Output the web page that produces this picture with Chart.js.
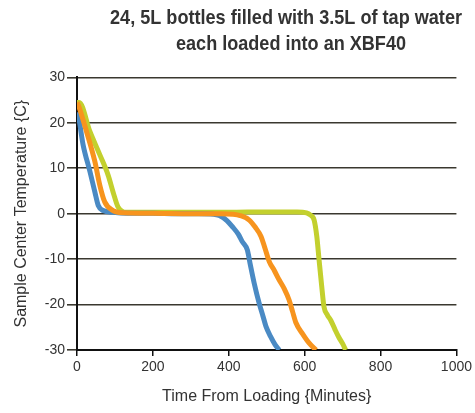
<!DOCTYPE html>
<html>
<head>
<meta charset="utf-8">
<script src="https://cdn.jsdelivr.net/npm/chart.js@4"></script>
<style>
html,body{margin:0;padding:0;background:#fff;}
#wrap{width:475px;height:413px;}
</style>
</head>
<body>
<div id="wrap"><canvas id="c" width="475" height="413"></canvas></div>
<script>
// ---- data ----
const titleLines = ["24, 5L bottles filled with 3.5L of tap water", "each loaded into an XBF40"];
const xTitle = "Time From Loading {Minutes}";
const yTitle = "Sample Center Temperature {C}";

const blueTime = [0,3,16,34,47,56,69,95,130,200,260,320,360,375,395,410,425,436,449,456,467,480,490,498,510,522,533];
const blueTemp = [22.3,21.8,15.2,9.3,4.8,1.8,0.7,0.3,0.1,0.1,0,0,-0.1,-0.4,-1.5,-2.9,-4.5,-6.2,-8,-10.9,-15.3,-19.7,-22.5,-24.8,-27,-28.8,-30];

const orangeTime = [0,3,25,47,60,73,95,122,200,300,380,410,430,454,470,485,495,507,520,533,546,559,568,577,595,612,630];
const orangeTemp = [24.5,24,18.1,11.5,6.3,2.6,0.7,0.2,0.1,0,0,-0.1,-0.4,-1.4,-3,-5,-7.5,-10.6,-12.5,-14.6,-16.5,-19,-21.5,-24,-26.5,-28.5,-30];

const greenTime = [0,6,34,60,82,95,108,130,200,300,400,500,580,605,615,625,632,638,645,651,660,669,680,690,700,708];
const greenTemp = [24.5,24.5,18.1,13,8.5,4.8,1.5,0.3,0.3,0.3,0.3,0.4,0.4,0.2,-0.3,-1.4,-5,-10.2,-16,-20.5,-22.3,-23.5,-25.5,-27.2,-28.6,-30];

const xMin = 0, xMax = 1000, xStep = 200;
const yMin = -30, yMax = 30, yStep = 10;

function pts(xs, ys){ return xs.map((x,i)=>({x:x, y:ys[i]})); }

// place the two title lines like the reference (condensed, centred right of middle)
const titleShift = {
  id: 'titleShift',
  afterLayout(chart){
    const tb = chart.titleBlock;
    if (tb){ tb.left = 110; tb.right = 462; }
    const sb = chart.boxes.find(b => b !== tb && b.options && b.options.text === titleLines[1]);
    if (sb){ sb.left = 176; sb.right = 406; }
  }
};

const titleFont = { family: "'Liberation Sans', Arial, sans-serif", size: 21, weight: 'bold', lineHeight: 1.2 };
const tickFont = { family: "'Liberation Sans', Arial, sans-serif", size: 14 };
const axisTitleFont = { family: "'Liberation Sans', Arial, sans-serif", size: 16, lineHeight: 1.2 };

new Chart(document.getElementById('c'), {
  type: 'line',
  data: {
    datasets: [
      {label:'orange', data: pts(orangeTime, orangeTemp), borderColor:'#f7941e'},
      {label:'blue', data: pts(blueTime, blueTemp), borderColor:'#4a8ac4'},
      {label:'green', data: pts(greenTime, greenTemp), borderColor:'#c3d02e'}
    ]
  },
  options: {
    responsive: false,
    animation: false,
    datasets: { line: { borderWidth: 5, pointRadius: 0, cubicInterpolationMode: 'monotone', fill: false } },
    layout: { padding: { left: 0, right: 17, top: 0, bottom: 0 } },
    plugins: {
      legend: { display: false },
      tooltip: { enabled: false },
      title: {
        display: true,
        text: titleLines[0],
        color: '#333333',
        font: titleFont,
        padding: { top: 6, bottom: 0 }
      },
      subtitle: {
        display: true,
        text: titleLines[1],
        color: '#333333',
        font: titleFont,
        padding: { top: 0, bottom: 21 }
      }
    },
    scales: {
      x: {
        type: 'linear',
        min: xMin, max: xMax,
        ticks: { stepSize: xStep, color: '#333333', padding: 3, maxRotation: 0, font: tickFont,
          callback: v => String(v) },
        grid: { drawOnChartArea: false, drawTicks: true, tickLength: 6, color: '#111111', lineWidth: 1.5 },
        border: { display: true, color: '#111111', width: 2 },
        title: { display: true, text: xTitle, color: '#333333', padding: { top: 0, bottom: 7 }, font: axisTitleFont },
        afterFit(s){ s.height = 63; }
      },
      y: {
        type: 'linear',
        min: yMin, max: yMax,
        ticks: { stepSize: yStep, color: '#333333', padding: 2, font: tickFont },
        grid: { color: '#3a382f', lineWidth: 1.6, tickLength: 10 },
        border: { display: true, color: '#111111', width: 2 },
        title: { display: true, text: yTitle, color: '#333333', padding: { top: 12, bottom: 0 }, font: axisTitleFont },
        afterFit(s){ s.width = 77; }
      }
    }
  },
  plugins: [titleShift]
});
</script>
</body>
</html>
